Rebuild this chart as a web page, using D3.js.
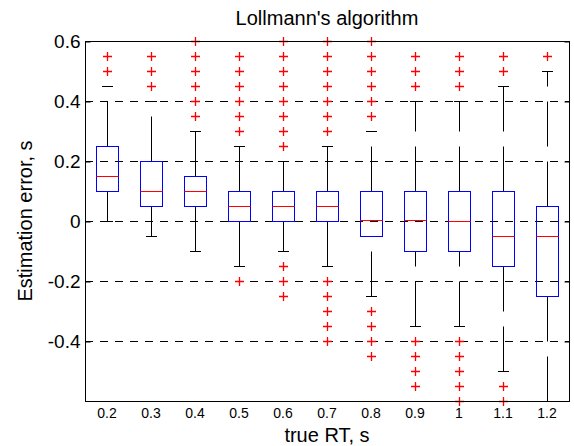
<!DOCTYPE html>
<meta charset="utf-8">
<title>Lollmann's algorithm</title>
<style>
  body { margin: 0; background: #fff; }
  svg { display: block; font-family: "Liberation Sans", Arial, sans-serif; }
  .grid line { stroke: #000; stroke-dasharray: 8,7; }
  .whisker { stroke: #000; stroke-dasharray: 45,15; }
  .cap { stroke: #000; }
  .box { fill: none; stroke: #00f; }
  .median { stroke: #f00; }
  .outlier { stroke: #f00; stroke-width: 1.3px; fill: none; }
</style>
<svg width="574" height="446"></svg>
<script src="https://cdn.jsdelivr.net/npm/d3@7"></script>
<script>
  // seconds
  var groups = ["0.2", "0.3", "0.4", "0.5", "0.6", "0.7", "0.8", "0.9", "1", "1.1", "1.2"];
  var q1 = [0.1, 0.05, 0.05, 0, 0, 0, -0.05, -0.1, -0.1, -0.15, -0.25];
  var median = [0.15, 0.1, 0.1, 0.05, 0.05, 0.05, 0.003, 0.003, 0, -0.05, -0.05];
  var q3 = [0.25, 0.2, 0.15, 0.1, 0.1, 0.1, 0.1, 0.1, 0.1, 0.1, 0.05];
  var whiskerLow = [0, -0.05, -0.1, -0.15, -0.1, -0.15, -0.25, -0.35, -0.35, -0.5, -0.6];
  var whiskerHigh = [0.45, 0.4, 0.3, 0.25, 0.2, 0.25, 0.3, 0.4, 0.4, 0.45, 0.5];
  var outliers = [
    [0.5, 0.55],
    [0.45, 0.5, 0.55],
    [0.35, 0.4, 0.45, 0.5, 0.55, 0.6],
    [0.3, 0.35, 0.4, 0.45, 0.5, 0.55, -0.2],
    [0.25, 0.3, 0.35, 0.4, 0.45, 0.5, 0.55, 0.6, -0.15, -0.2, -0.25],
    [0.3, 0.35, 0.4, 0.45, 0.5, 0.55, 0.6, -0.2, -0.25, -0.3, -0.35, -0.4],
    [0.35, 0.4, 0.45, 0.5, 0.55, 0.6, -0.3, -0.35, -0.4, -0.45],
    [0.45, 0.5, 0.55, -0.4, -0.45, -0.5, -0.55],
    [0.45, 0.5, 0.55, -0.4, -0.45, -0.5, -0.55, -0.6],
    [0.5, 0.55, -0.55, -0.6],
    [0.55]
  ];
  var yTicks = [-0.4, -0.2, 0, 0.2, 0.4, 0.6];
  var gridTicks = [-0.4, -0.2, 0, 0.2, 0.4];

  var svg = d3.select("svg"),
    plotL = 85, plotR = 569, plotT = 41, plotB = 401;

  var x = d3.scaleBand().domain(groups).range([plotL, plotR]);
  var y = d3.scaleLinear().domain([-0.6, 0.6]).range([plotB, plotT]);

  var bw = x.bandwidth(),
    boxW = bw * 0.5,
    capW = boxW * 0.5,
    plus = 4.5;

  function cx(i) { return Math.round(x(groups[i]) + bw / 2) + 0.5; }
  function py(v) { return Math.round(y(v)) + 0.5; }

  // grid
  svg.append("g")
    .attr("class", "grid")
    .selectAll("line")
    .data(gridTicks)
    .enter().append("line")
    .attr("x1", plotL)
    .attr("x2", plotR)
    .attr("y1", py)
    .attr("y2", py);

  var data = groups.map(function(g, i) { return i; });

  var box = svg.append("g").selectAll("g")
    .data(data)
    .enter().append("g");

  // whiskers, both drawn bottom to top like matlab does
  box.append("line")
    .attr("class", "whisker")
    .attr("x1", cx).attr("x2", cx)
    .attr("y1", function(i) { return py(q3[i]); })
    .attr("y2", function(i) { return py(whiskerHigh[i]); });

  box.append("line")
    .attr("class", "whisker")
    .attr("x1", cx).attr("x2", cx)
    .attr("y1", function(i) { return py(whiskerLow[i]); })
    .attr("y2", function(i) { return py(q1[i]); });

  box.append("line")
    .attr("class", "cap")
    .attr("x1", function(i) { return cx(i) - capW / 2; })
    .attr("x2", function(i) { return cx(i) + capW / 2; })
    .attr("y1", function(i) { return py(whiskerHigh[i]); })
    .attr("y2", function(i) { return py(whiskerHigh[i]); });

  box.append("line")
    .attr("class", "cap")
    .attr("x1", function(i) { return cx(i) - capW / 2; })
    .attr("x2", function(i) { return cx(i) + capW / 2; })
    .attr("y1", function(i) { return py(whiskerLow[i]); })
    .attr("y2", function(i) { return py(whiskerLow[i]); });

  box.append("rect")
    .attr("class", "box")
    .attr("x", function(i) { return cx(i) - boxW / 2; })
    .attr("width", boxW)
    .attr("y", function(i) { return py(q3[i]); })
    .attr("height", function(i) { return py(q1[i]) - py(q3[i]); });

  box.append("line")
    .attr("class", "median")
    .attr("x1", function(i) { return cx(i) - boxW / 2; })
    .attr("x2", function(i) { return cx(i) + boxW / 2; })
    .attr("y1", function(i) { return py(median[i]); })
    .attr("y2", function(i) { return py(median[i]); });

  box.selectAll("path")
    .data(function(i) {
      return outliers[i].map(function(v) { return { i: i, v: v }; });
    })
    .enter().append("path")
    .attr("class", "outlier")
    .attr("d", function(d) {
      var px = cx(d.i), pv = py(d.v);
      return "M" + (px - plus) + "," + pv + "H" + (px + plus) +
        "M" + px + "," + (pv - plus) + "V" + (pv + plus);
    });

  // frame
  svg.append("rect")
    .attr("x", plotL + 0.5)
    .attr("y", plotT + 0.5)
    .attr("width", plotR - plotL)
    .attr("height", plotB - plotT)
    .attr("fill", "none")
    .attr("stroke", "#000");

  var yAxis = svg.append("g")
    .attr("transform", "translate(" + (plotL + 0.5) + ",0.5)")
    .call(d3.axisLeft(y).tickValues(yTicks).tickSizeInner(-5).tickSizeOuter(0).tickPadding(5)
      .tickFormat(function(d) { return String(+d.toFixed(1)); }));
  yAxis.select(".domain").remove();
  yAxis.selectAll("text").attr("font-size", 19).attr("font-family", null).attr("fill", "#000");

  var yAxisR = svg.append("g")
    .attr("transform", "translate(" + (plotR + 0.5) + ",0.5)")
    .call(d3.axisRight(y).tickValues(yTicks).tickSizeInner(-5).tickSizeOuter(0).tickFormat(""));
  yAxisR.select(".domain").remove();

  var xAxis = svg.append("g")
    .attr("transform", "translate(0," + plotB + ")")
    .call(d3.axisBottom(x).tickSize(0).tickPadding(7));
  xAxis.select(".domain").remove();
  xAxis.selectAll("text").attr("font-size", 14).attr("font-family", null).attr("fill", "#000");

  svg.append("text")
    .attr("x", (plotL + plotR) / 2)
    .attr("y", 25)
    .attr("text-anchor", "middle")
    .attr("font-size", 20)
    .text("Lollmann's algorithm");

  svg.append("text")
    .attr("x", (plotL + plotR) / 2)
    .attr("y", 442)
    .attr("text-anchor", "middle")
    .attr("font-size", 20)
    .text("true RT, s");

  svg.append("text")
    .attr("transform", "translate(32," + (plotT + plotB) / 2 + ") rotate(-90)")
    .attr("text-anchor", "middle")
    .attr("font-size", 20)
    .text("Estimation error, s");
</script>
